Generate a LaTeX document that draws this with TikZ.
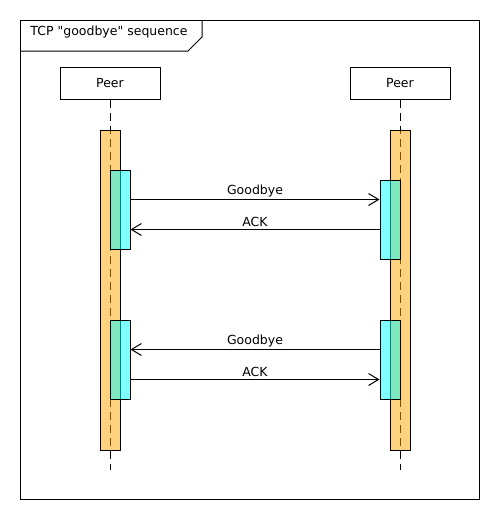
\documentclass[tikz,border=0pt]{standalone}
\usepackage{fontspec}
\setmainfont{DejaVu Sans}[Ligatures=TeXOff]
\usetikzlibrary{arrows.meta}
\definecolor{barorange}{RGB}{255,165,0}
\definecolor{actcyan}{RGB}{0,255,255}
\begin{document}
\begin{tikzpicture}[x=1pt,y=-1pt, line width=1pt,
  every node/.style={font=\fontsize{12.5}{15}\selectfont},
  peerbox/.style={draw, fill=white, minimum width=100pt, minimum height=32pt, inner sep=0pt},
  lifeline/.style={draw, dash pattern=on 8pt off 5pt},
  execbar/.style={draw, fill=barorange, fill opacity=0.5, minimum width=20pt, minimum height=320pt, inner sep=0pt},
  actbox/.style={draw, fill=actcyan, fill opacity=0.5, minimum width=20pt, minimum height=79pt, inner sep=0pt},
  msg/.style={draw, -{Straight Barb[length=10pt,width=12pt]}},
  lbl/.style={above, inner sep=2pt}]
\useasboundingbox (0,0) rectangle (500,520);
% frame
\node[draw, minimum width=459pt, minimum height=479pt, inner sep=0pt] (frame) at (250,260) {};
\draw (20.5,51) -- (188,51) -- (202,37) -- (202,20.5);
\node[anchor=west, inner sep=0pt] (title) at (30,32) {TCP "goodbye" sequence};
% participants
\node[peerbox] (p1) at (110,83.5) {Peer};
\node[peerbox] (p2) at (400,83.5) {Peer};
\coordinate (e1end) at (110,470);
\coordinate (e2end) at (400,470);
\draw[lifeline] (p1.south) -- (e1end);
\draw[lifeline] (p2.south) -- (e2end);
% execution bars
\node[execbar] (b1) at (110,290) {};
\node[execbar] (b2) at (400,290) {};
% activations
\node[actbox] (a1) at (120,209.5) {};
\node[actbox] (a2) at (390,219.5) {};
\node[actbox] (a3) at (120,359.5) {};
\node[actbox] (a4) at (390,359.5) {};
% messages
\draw[msg] ([yshift=-30pt]a1.north east) -- node[lbl] {Goodbye} ([yshift=-20pt]a2.north west);
\draw[msg] ([yshift=-50pt]a2.north west) -- node[lbl] {ACK} ([yshift=-60pt]a1.north east);
\draw[msg] ([yshift=-30pt]a4.north west) -- node[lbl] {Goodbye} ([yshift=-30pt]a3.north east);
\draw[msg] ([yshift=-60pt]a3.north east) -- node[lbl] {ACK} ([yshift=-60pt]a4.north west);
\end{tikzpicture}
\end{document}
